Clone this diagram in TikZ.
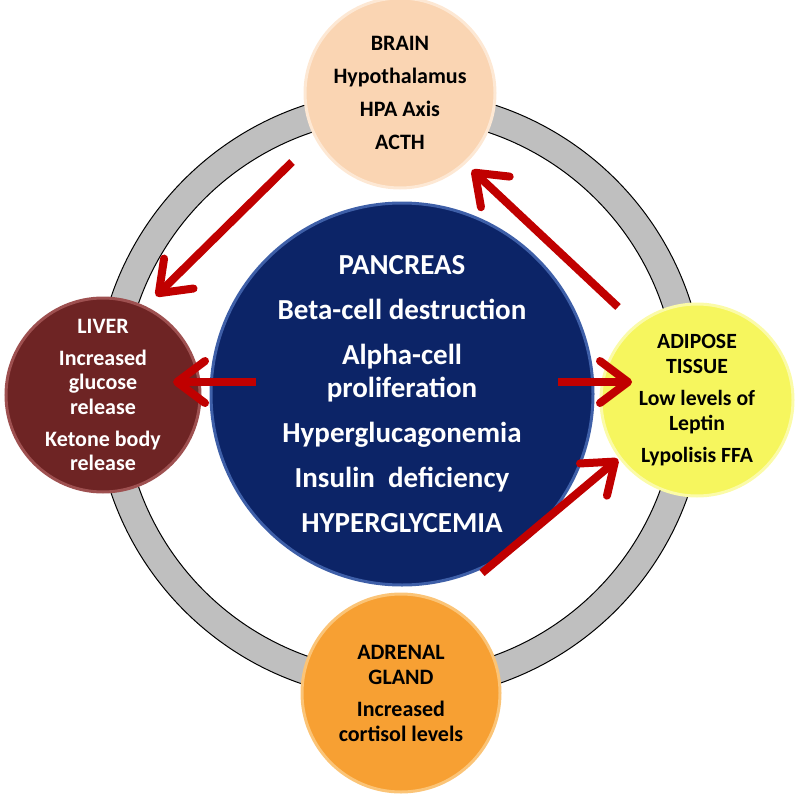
\documentclass[tikz,border=0pt]{standalone}
\usepackage{fontspec}
\setmainfont{Carlito}
\usetikzlibrary{arrows.meta}
\definecolor{ringgray}{HTML}{BFBFBF}
\definecolor{brainfill}{HTML}{FAD5B3}
\definecolor{brainrim}{HTML}{FDE8D4}
\definecolor{liverfill}{HTML}{6E2424}
\definecolor{liverrim}{HTML}{9E5050}
\definecolor{pancfill}{HTML}{0C2467}
\definecolor{pancrim}{HTML}{3E5FA8}
\definecolor{adipfill}{HTML}{F6F65E}
\definecolor{adiprim}{HTML}{FBFBA8}
\definecolor{adrfill}{HTML}{F7A033}
\definecolor{adrrim}{HTML}{FBC477}
\definecolor{arrowred}{HTML}{C00000}
\tikzset{
  organ/.style={circle, inner sep=0pt, align=center, line width=3pt},
  redarrow/.style={line width=8pt, draw=arrowred,
    -{Straight Barb[length=28pt, width=42pt, round]}},
}
\begin{document}
\begin{tikzpicture}[x=1pt, y=-1pt]
\useasboundingbox (0,0) rectangle (800,797);
% ring
\fill[ringgray, even odd rule] (400,395) circle[radius=305pt] (400,395) circle[radius=277pt];
\draw[black, line width=1pt] (400,395) circle[radius=305pt];
\draw[black, line width=1pt] (400,395) circle[radius=277pt];
% organs
\node[organ, minimum size=382pt, fill=pancfill, draw=pancrim, text=white,
  font=\fontsize{29}{33}\selectfont\bfseries] (panc) at (402,394)
  {PANCREAS\\[12pt] Beta-cell destruction\\[12pt] Alpha-cell\\ proliferation\\[12pt] Hyperglucagonemia\\[12pt] Insulin\ \ deficiency\\[12pt] HYPERGLYCEMIA};
\node[organ, minimum size=190pt, fill=brainfill, draw=brainrim, text=black,
  font=\fontsize{22}{25}\selectfont\bfseries] (brain) at (400,93)
  {BRAIN\\[8pt] Hypothalamus\\[8pt] HPA Axis\\[8pt] ACTH};
\node[organ, minimum size=194pt, fill=liverfill, draw=liverrim, text=white,
  font=\fontsize{22}{24.5}\selectfont\bfseries] (liver) at (103,395)
  {LIVER\\[7.5pt] Increased\\ glucose\\ release\\[7.5pt] Ketone body\\ release};
\node[organ, minimum size=192pt, fill=adipfill, draw=adiprim, text=black,
  font=\fontsize{21.7}{25}\selectfont\bfseries] (adip) at (697,400)
  {ADIPOSE\\ TISSUE\\[7pt] Low levels of\\ Leptin\\[7pt] Lypolisis FFA};
\node[organ, minimum size=198pt, fill=adrfill, draw=adrrim, text=black,
  font=\fontsize{22}{25}\selectfont\bfseries] (adr) at (401,693)
  {ADRENAL\\ GLAND\\[7pt] Increased\\ cortisol levels};
% arrow ends
\coordinate (bl1) at (292,162);
\coordinate (bl2) at (156,296);
\coordinate (ab1) at (618,307);
\coordinate (ab2) at (472,170);
\coordinate (pl1) at (256,382);
\coordinate (pl2) at (173,382);
\coordinate (pa1) at (558,382);
\coordinate (pa2) at (632,382);
\coordinate (ra1) at (482,573);
\coordinate (ra2) at (618,459);
% arrows
\draw[redarrow] (bl1) -- (bl2);
\draw[redarrow] (ab1) -- (ab2);
\draw[redarrow] (pl1) -- (pl2);
\draw[redarrow] (pa1) -- (pa2);
\draw[redarrow] (ra1) -- (ra2);
\end{tikzpicture}
\end{document}
